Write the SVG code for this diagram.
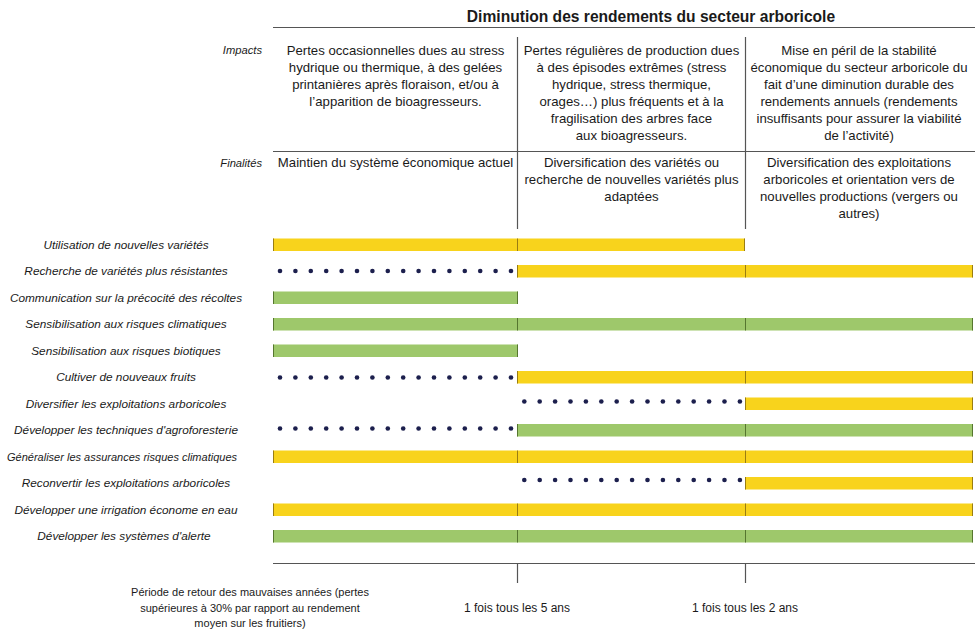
<svg xmlns="http://www.w3.org/2000/svg" width="980" height="629" viewBox="0 0 980 629">
<style>
.t{font-family:"Liberation Sans",Arial,sans-serif;fill:#1a1a1a}
.title{font-size:15.6px;font-weight:bold;text-anchor:middle}
.hd{font-size:13.2px;text-anchor:middle}
.lab{font-size:11.2px;font-style:italic;text-anchor:end}
.row{font-size:11.8px;font-style:italic;text-anchor:middle}
.bt{font-size:11px;text-anchor:middle}
.bt2{font-size:12px;text-anchor:middle}
.ln{stroke:#555;stroke-width:1.2;fill:none}
.y{fill:#F8D31C}
.g{fill:#9EC86B}
.ye{stroke:#9a7d12;stroke-width:1}
.ge{stroke:#56762f;stroke-width:1}
.d{fill:#1c1f4d}
</style>
<defs>
<g id="dots16">
<circle cx="0" cy="0" r="2.3"/><circle cx="15.4" cy="0" r="2.3"/><circle cx="30.8" cy="0" r="2.3"/><circle cx="46.2" cy="0" r="2.3"/><circle cx="61.6" cy="0" r="2.3"/><circle cx="77" cy="0" r="2.3"/><circle cx="92.4" cy="0" r="2.3"/><circle cx="107.8" cy="0" r="2.3"/><circle cx="123.2" cy="0" r="2.3"/><circle cx="138.6" cy="0" r="2.3"/><circle cx="154" cy="0" r="2.3"/><circle cx="169.4" cy="0" r="2.3"/><circle cx="184.8" cy="0" r="2.3"/><circle cx="200.2" cy="0" r="2.3"/><circle cx="215.6" cy="0" r="2.3"/><circle cx="231" cy="0" r="2.3"/>
</g>
<g id="dots15">
<circle cx="0" cy="0" r="2.3"/><circle cx="15.4" cy="0" r="2.3"/><circle cx="30.8" cy="0" r="2.3"/><circle cx="46.2" cy="0" r="2.3"/><circle cx="61.6" cy="0" r="2.3"/><circle cx="77" cy="0" r="2.3"/><circle cx="92.4" cy="0" r="2.3"/><circle cx="107.8" cy="0" r="2.3"/><circle cx="123.2" cy="0" r="2.3"/><circle cx="138.6" cy="0" r="2.3"/><circle cx="154" cy="0" r="2.3"/><circle cx="169.4" cy="0" r="2.3"/><circle cx="184.8" cy="0" r="2.3"/><circle cx="200.2" cy="0" r="2.3"/><circle cx="215.6" cy="0" r="2.3"/>
</g>
</defs>
<rect width="980" height="629" fill="#fff"/>

<g id="header">
<text class="t title" x="651" y="22">Diminution des rendements du secteur arboricole</text>
<text class="t lab" x="262" y="54">Impacts</text>
<text class="t lab" x="262" y="167">Finalités</text>
</g>

<g id="impacts">
<text class="t hd" x="395.5" y="55">Pertes occasionnelles dues au stress</text>
<text class="t hd" x="395.5" y="72">hydrique ou thermique, à des gelées</text>
<text class="t hd" x="395.5" y="89">printanières après floraison, et/ou à</text>
<text class="t hd" x="395.5" y="106">l’apparition de bioagresseurs.</text>
<text class="t hd" x="631.5" y="55">Pertes régulières de production dues</text>
<text class="t hd" x="631.5" y="72">à des épisodes extrêmes (stress</text>
<text class="t hd" x="631.5" y="89">hydrique, stress thermique,</text>
<text class="t hd" x="631.5" y="106">orages…) plus fréquents et à la</text>
<text class="t hd" x="631.5" y="123">fragilisation des arbres face</text>
<text class="t hd" x="631.5" y="140">aux bioagresseurs.</text>
<text class="t hd" x="859" y="55">Mise en péril de la stabilité</text>
<text class="t hd" x="859" y="72">économique du secteur arboricole du</text>
<text class="t hd" x="859" y="89">fait d’une diminution durable des</text>
<text class="t hd" x="859" y="106">rendements annuels (rendements</text>
<text class="t hd" x="859" y="123">insuffisants pour assurer la viabilité</text>
<text class="t hd" x="859" y="140">de l’activité)</text>
</g>

<g id="finalites">
<text class="t hd" x="395.5" y="167">Maintien du système économique actuel</text>
<text class="t hd" x="631.5" y="167">Diversification des variétés ou</text>
<text class="t hd" x="631.5" y="184">recherche de nouvelles variétés plus</text>
<text class="t hd" x="631.5" y="201">adaptées</text>
<text class="t hd" x="859" y="167">Diversification des exploitations</text>
<text class="t hd" x="859" y="184">arboricoles et orientation vers de</text>
<text class="t hd" x="859" y="201">nouvelles productions (vergers ou</text>
<text class="t hd" x="859" y="218">autres)</text>
</g>

<g id="connectors">
<line class="ln" x1="273" y1="27.5" x2="975" y2="27.5" stroke-width="1.4"/>
<line class="ln" x1="273" y1="151.5" x2="975" y2="151.5" stroke="#888"/>
<line class="ln" x1="517.5" y1="37" x2="517.5" y2="229"/>
<line class="ln" x1="745.5" y1="37" x2="745.5" y2="229"/>
<line class="ln" x1="273" y1="563.5" x2="975" y2="563.5"/>
<line class="ln" x1="517.5" y1="563.5" x2="517.5" y2="583"/>
<line class="ln" x1="745.5" y1="563.5" x2="745.5" y2="583"/>
</g>

<g id="row-labels">
<text class="t row" x="126" y="248.5">Utilisation de nouvelles variétés</text>
<text class="t row" x="126" y="275">Recherche de variétés plus résistantes</text>
<text class="t row" x="126" y="301.5">Communication sur la précocité des récoltes</text>
<text class="t row" x="126" y="328">Sensibilisation aux risques climatiques</text>
<text class="t row" x="126" y="354.5">Sensibilisation aux risques biotiques</text>
<text class="t row" x="126" y="381">Cultiver de nouveaux fruits</text>
<text class="t row" x="126" y="407.5">Diversifier les exploitations arboricoles</text>
<text class="t row" x="126" y="434">Développer les techniques d'agroforesterie</text>
<text class="t row" x="122" y="460.5" textLength="230" lengthAdjust="spacingAndGlyphs">Généraliser les assurances risques climatiques</text>
<text class="t row" x="126" y="487">Reconvertir les exploitations arboricoles</text>
<text class="t row" x="126" y="513.5">Développer une irrigation économe en eau</text>
<text class="t row" x="124" y="540">Développer les systèmes d'alerte</text>
</g>

<g id="bars">
<rect class="y" x="273" y="238.5" width="472" height="12.5"/>
<line class="ye" x1="273.5" y1="238.5" x2="273.5" y2="251"/><line class="ye" x1="517.5" y1="238.5" x2="517.5" y2="251"/><line class="ye" x1="744.5" y1="238.5" x2="744.5" y2="251"/>
<use href="#dots16" class="d" x="280" y="271"/>
<rect class="y" x="517" y="265" width="456" height="12.5"/>
<line class="ye" x1="517.5" y1="265" x2="517.5" y2="277.5"/><line class="ye" x1="745.5" y1="265" x2="745.5" y2="277.5"/><line class="ye" x1="972.5" y1="265" x2="972.5" y2="277.5"/>
<rect class="g" x="273" y="291.5" width="245" height="12.5"/>
<line class="ge" x1="273.5" y1="291.5" x2="273.5" y2="304"/><line class="ge" x1="517.5" y1="291.5" x2="517.5" y2="304"/>
<rect class="g" x="273" y="318" width="700" height="12.5"/>
<line class="ge" x1="273.5" y1="318" x2="273.5" y2="330.5"/><line class="ge" x1="517.5" y1="318" x2="517.5" y2="330.5"/><line class="ge" x1="745.5" y1="318" x2="745.5" y2="330.5"/><line class="ge" x1="972.5" y1="318" x2="972.5" y2="330.5"/>
<rect class="g" x="273" y="344.5" width="245" height="12.5"/>
<line class="ge" x1="273.5" y1="344.5" x2="273.5" y2="357"/><line class="ge" x1="517.5" y1="344.5" x2="517.5" y2="357"/>
<use href="#dots16" class="d" x="280" y="377.5"/>
<rect class="y" x="517" y="371" width="456" height="12.5"/>
<line class="ye" x1="517.5" y1="371" x2="517.5" y2="383.5"/><line class="ye" x1="745.5" y1="371" x2="745.5" y2="383.5"/><line class="ye" x1="972.5" y1="371" x2="972.5" y2="383.5"/>
<use href="#dots15" class="d" x="524.3" y="401.5"/>
<rect class="y" x="745" y="397.5" width="228" height="12.5"/>
<line class="ye" x1="745.5" y1="397.5" x2="745.5" y2="410"/><line class="ye" x1="972.5" y1="397.5" x2="972.5" y2="410"/>
<use href="#dots16" class="d" x="280" y="428.5"/>
<rect class="g" x="517" y="424" width="456" height="12.5"/>
<line class="ge" x1="517.5" y1="424" x2="517.5" y2="436.5"/><line class="ge" x1="745.5" y1="424" x2="745.5" y2="436.5"/><line class="ge" x1="972.5" y1="424" x2="972.5" y2="436.5"/>
<rect class="y" x="273" y="450.5" width="700" height="12.5"/>
<line class="ye" x1="273.5" y1="450.5" x2="273.5" y2="463"/><line class="ye" x1="517.5" y1="450.5" x2="517.5" y2="463"/><line class="ye" x1="745.5" y1="450.5" x2="745.5" y2="463"/><line class="ye" x1="972.5" y1="450.5" x2="972.5" y2="463"/>
<use href="#dots15" class="d" x="524.3" y="480"/>
<rect class="y" x="745" y="477" width="228" height="12.5"/>
<line class="ye" x1="745.5" y1="477" x2="745.5" y2="489.5"/><line class="ye" x1="972.5" y1="477" x2="972.5" y2="489.5"/>
<rect class="y" x="273" y="503.5" width="700" height="12.5"/>
<line class="ye" x1="273.5" y1="503.5" x2="273.5" y2="516"/><line class="ye" x1="517.5" y1="503.5" x2="517.5" y2="516"/><line class="ye" x1="745.5" y1="503.5" x2="745.5" y2="516"/><line class="ye" x1="972.5" y1="503.5" x2="972.5" y2="516"/>
<rect class="g" x="273" y="530" width="700" height="12.5"/>
<line class="ge" x1="273.5" y1="530" x2="273.5" y2="542.5"/><line class="ge" x1="517.5" y1="530" x2="517.5" y2="542.5"/><line class="ge" x1="745.5" y1="530" x2="745.5" y2="542.5"/><line class="ge" x1="972.5" y1="530" x2="972.5" y2="542.5"/>
</g>

<g id="footer">
<text class="t bt" x="250" y="596">Période de retour des mauvaises années (pertes</text>
<text class="t bt" x="250" y="612">supérieures à 30% par rapport au rendement</text>
<text class="t bt" x="250" y="627">moyen sur les fruitiers)</text>
<text class="t bt2" x="517" y="612">1 fois tous les 5 ans</text>
<text class="t bt2" x="745" y="612">1 fois tous les 2 ans</text>
</g>
</svg>
